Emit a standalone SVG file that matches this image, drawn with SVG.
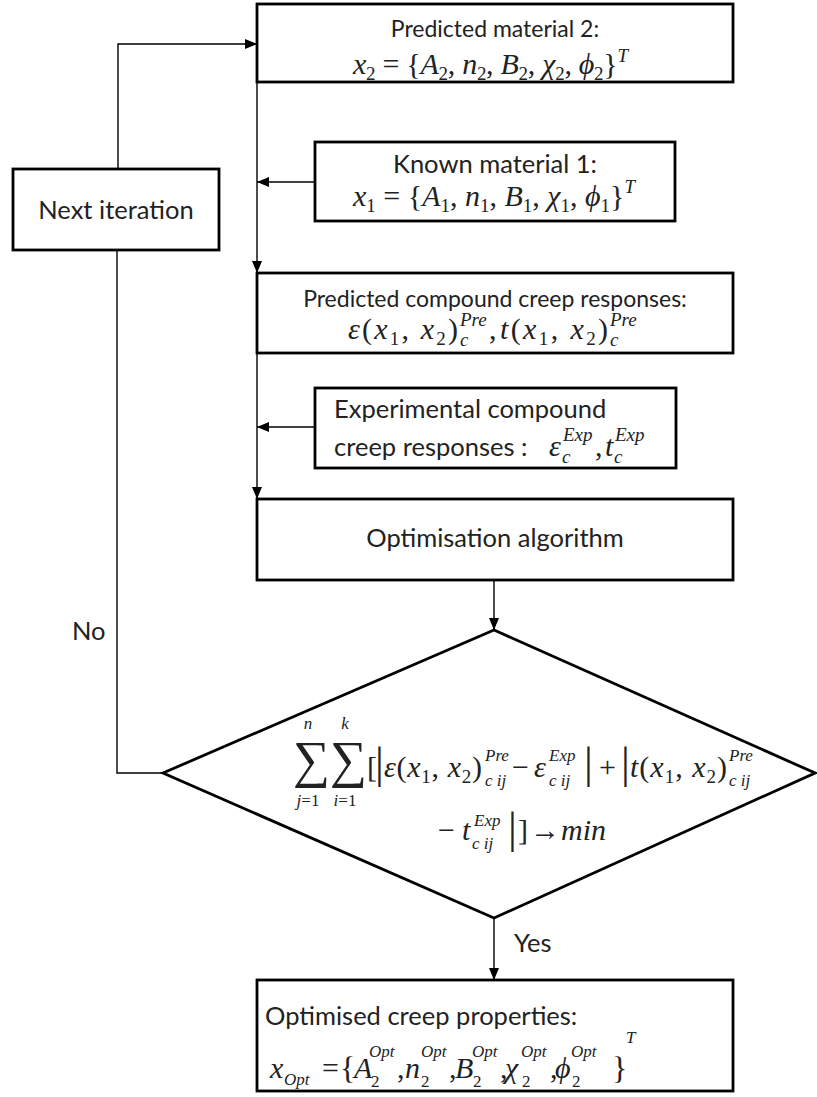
<svg xmlns="http://www.w3.org/2000/svg" width="817" height="1097" viewBox="0 0 817 1097">
<defs>
<marker id="ah" viewBox="0 0 12 10" refX="12" refY="5" markerWidth="12" markerHeight="10" markerUnits="userSpaceOnUse" orient="auto">
<path d="M0,0 L12,5 L0,10 Z" fill="#000"/>
</marker>
<style>
.box{fill:#fff;stroke:#000;stroke-width:2.8}
.con{fill:none;stroke:#000;stroke-width:1.4}
.t{font-family:Lato,"Open Sans",sans-serif;font-size:25.5px;fill:#222}
.t2{font-size:23px}
.m{font-family:"Liberation Serif","DejaVu Serif",serif;font-size:30px;fill:#222}
.i{font-style:italic}
.s{font-size:19px}
.s2{font-size:17px}
.L{font-size:52px}
.bar{font-size:44px}
.br{font-size:32px}
</style>
</defs>
<rect width="817" height="1097" fill="#fff"/>

<g id="connectors">
<path class="con" d="M118,169 V44 H257" marker-end="url(#ah)"/>
<path class="con" d="M257,82 V273" marker-end="url(#ah)"/>
<path class="con" d="M315,182 H257" marker-end="url(#ah)"/>
<path class="con" d="M257,353 V499" marker-end="url(#ah)"/>
<path class="con" d="M315,427 H257" marker-end="url(#ah)"/>
<path class="con" d="M494,580 V630" marker-end="url(#ah)"/>
<path class="con" d="M494,918 V980" marker-end="url(#ah)"/>
<path class="con" d="M163,773 H117 V250"/>
<text class="t" x="72" y="640">No</text>
<text class="t" x="514" y="952">Yes</text>
</g>

<g id="predicted-material-2">
<rect class="box" x="257" y="4" width="476" height="78"/>
<text class="t t2" x="495" y="37" text-anchor="middle">Predicted material 2:</text>
<text class="m" x="353" y="74" textLength="275"><tspan class="i">x</tspan><tspan class="s" dy="6">2</tspan><tspan dy="-6"> = {</tspan><tspan class="i">A</tspan><tspan class="s" dy="6">2</tspan><tspan dy="-6">, </tspan><tspan class="i">n</tspan><tspan class="s" dy="6">2</tspan><tspan dy="-6">, </tspan><tspan class="i">B</tspan><tspan class="s" dy="6">2</tspan><tspan dy="-6">, </tspan><tspan class="i">χ</tspan><tspan class="s" dy="6">2</tspan><tspan dy="-6">, </tspan><tspan class="i">ϕ</tspan><tspan class="s" dy="6">2</tspan><tspan dy="-6">}</tspan><tspan class="s i" dy="-12">T</tspan></text>
</g>

<g id="next-iteration">
<rect class="box" x="13" y="169" width="206" height="81"/>
<text class="t" x="116" y="219" text-anchor="middle">Next iteration</text>
</g>

<g id="known-material-1">
<rect class="box" x="315" y="142" width="360" height="79"/>
<text class="t" x="495" y="173" text-anchor="middle">Known material 1:</text>
<text class="m" x="353" y="206" textLength="282"><tspan class="i">x</tspan><tspan class="s" dy="6">1</tspan><tspan dy="-6"> = {</tspan><tspan class="i">A</tspan><tspan class="s" dy="6">1</tspan><tspan dy="-6">, </tspan><tspan class="i">n</tspan><tspan class="s" dy="6">1</tspan><tspan dy="-6">, </tspan><tspan class="i">B</tspan><tspan class="s" dy="6">1</tspan><tspan dy="-6">, </tspan><tspan class="i">χ</tspan><tspan class="s" dy="6">1</tspan><tspan dy="-6">, </tspan><tspan class="i">ϕ</tspan><tspan class="s" dy="6">1</tspan><tspan dy="-6">}</tspan><tspan class="s i" dy="-13">T</tspan></text>
</g>

<g id="predicted-compound">
<rect class="box" x="257" y="273" width="476" height="80"/>
<text class="t t2" x="495" y="307" text-anchor="middle">Predicted compound creep responses:</text>
<text class="m" x="348" y="339" textLength="110"><tspan class="i">ε</tspan>(<tspan class="i">x</tspan><tspan class="s" dy="6">1</tspan><tspan dy="-6">, </tspan><tspan class="i">x</tspan><tspan class="s" dy="6">2</tspan><tspan dy="-6">)</tspan></text>
<text class="m s i" x="460" y="326">Pre</text>
<text class="m s i" x="460" y="346">c</text>
<text class="m" x="489" y="339">,</text>
<text class="m" x="500" y="339" textLength="108"><tspan class="i">t</tspan>(<tspan class="i">x</tspan><tspan class="s" dy="6">1</tspan><tspan dy="-6">, </tspan><tspan class="i">x</tspan><tspan class="s" dy="6">2</tspan><tspan dy="-6">)</tspan></text>
<text class="m s i" x="610" y="326">Pre</text>
<text class="m s i" x="610" y="346">c</text>
</g>

<g id="experimental">
<rect class="box" x="315" y="388" width="361" height="80"/>
<text class="t" x="334" y="418">Experimental compound</text>
<text class="t" x="334" y="456">creep responses : </text>
<text class="m i" x="549" y="456">ε</text>
<text class="m s i" x="563" y="441">Exp</text>
<text class="m s i" x="562" y="463">c</text>
<text class="m" x="595" y="456">,</text>
<text class="m i" x="605" y="456">t</text>
<text class="m s i" x="615" y="441">Exp</text>
<text class="m s i" x="614" y="463">c</text>
</g>

<g id="optimisation-algorithm">
<rect class="box" x="257" y="499" width="476" height="81"/>
<text class="t" x="495" y="547" text-anchor="middle">Optimisation algorithm</text>
</g>

<g id="decision">
<polygon class="box" points="494,630 815,773 494,918 163,773" stroke-width="2.6"/>
<text class="m L" x="293" y="777">∑</text>
<text class="m s2 i" x="308" y="729" text-anchor="middle">n</text>
<text class="m s2 i" x="308" y="806" text-anchor="middle">j<tspan font-style="normal">=1</tspan></text>
<text class="m L" x="330" y="777">∑</text>
<text class="m s2 i" x="345" y="729" text-anchor="middle">k</text>
<text class="m s2 i" x="345" y="806" text-anchor="middle">i<tspan font-style="normal">=1</tspan></text>
<text class="m" x="367" y="777">[</text>
<text class="m bar" x="375" y="778">|</text>
<text class="m" x="384" y="777" textLength="98"><tspan class="i">ε</tspan>(<tspan class="i">x</tspan><tspan class="s" dy="6">1</tspan><tspan dy="-6">, </tspan><tspan class="i">x</tspan><tspan class="s" dy="6">2</tspan><tspan dy="-6">)</tspan></text>
<text class="m s2 i" x="485" y="761">Pre</text>
<text class="m s2 i" x="485" y="786">c ij</text>
<text class="m" x="512" y="777">−</text>
<text class="m i" x="534" y="777">ε</text>
<text class="m s2 i" x="549" y="761">Exp</text>
<text class="m s2 i" x="549" y="786">c ij</text>
<text class="m bar" x="584" y="778">|</text>
<text class="m" x="599" y="777">+</text>
<text class="m bar" x="621" y="778">|</text>
<text class="m" x="630" y="777" textLength="97"><tspan class="i">t</tspan>(<tspan class="i">x</tspan><tspan class="s" dy="6">1</tspan><tspan dy="-6">, </tspan><tspan class="i">x</tspan><tspan class="s" dy="6">2</tspan><tspan dy="-6">)</tspan></text>
<text class="m s2 i" x="729" y="761">Pre</text>
<text class="m s2 i" x="729" y="786">c ij</text>
<text class="m" x="438" y="840">−</text>
<text class="m i" x="462" y="840">t</text>
<text class="m s2 i" x="474" y="826">Exp</text>
<text class="m s2 i" x="472" y="849">c ij</text>
<text class="m bar" x="508" y="843">|</text>
<text class="m" x="518" y="840">]</text>
<text class="m" x="530" y="840">→</text>
<text class="m i" x="561" y="840">min</text>
</g>

<g id="optimised-properties">
<rect class="box" x="257" y="980" width="476" height="111"/>
<text class="t" x="265" y="1025">Optimised creep properties:</text>
<text class="m i" x="270" y="1078">x</text>
<text class="m s2 i" x="284" y="1085">Opt</text>
<text class="m" x="322" y="1078">=</text>
<text class="m br" x="340" y="1079">{</text>
<text class="m i" x="354" y="1078">A</text>
<text class="m s2 i" x="369" y="1057">Opt</text>
<text class="m s2" x="371" y="1087">2</text>
<text class="m" x="397" y="1078">,</text>
<text class="m i" x="405" y="1078">n</text>
<text class="m s2 i" x="421" y="1057">Opt</text>
<text class="m s2" x="421" y="1087">2</text>
<text class="m" x="449" y="1078">,</text>
<text class="m i" x="455" y="1078">B</text>
<text class="m s2 i" x="472" y="1057">Opt</text>
<text class="m s2" x="473" y="1087">2</text>
<text class="m" x="500" y="1078">,</text>
<text class="m i" x="505" y="1078">χ</text>
<text class="m s2 i" x="521" y="1057">Opt</text>
<text class="m s2" x="522" y="1087">2</text>
<text class="m" x="550" y="1078">,</text>
<text class="m i" x="555" y="1078">ϕ</text>
<text class="m s2 i" x="571" y="1057">Opt</text>
<text class="m s2" x="572" y="1087">2</text>
<text class="m br" x="612" y="1079">}</text>
<text class="m s2 i" x="626" y="1043">T</text>
</g>
</svg>
